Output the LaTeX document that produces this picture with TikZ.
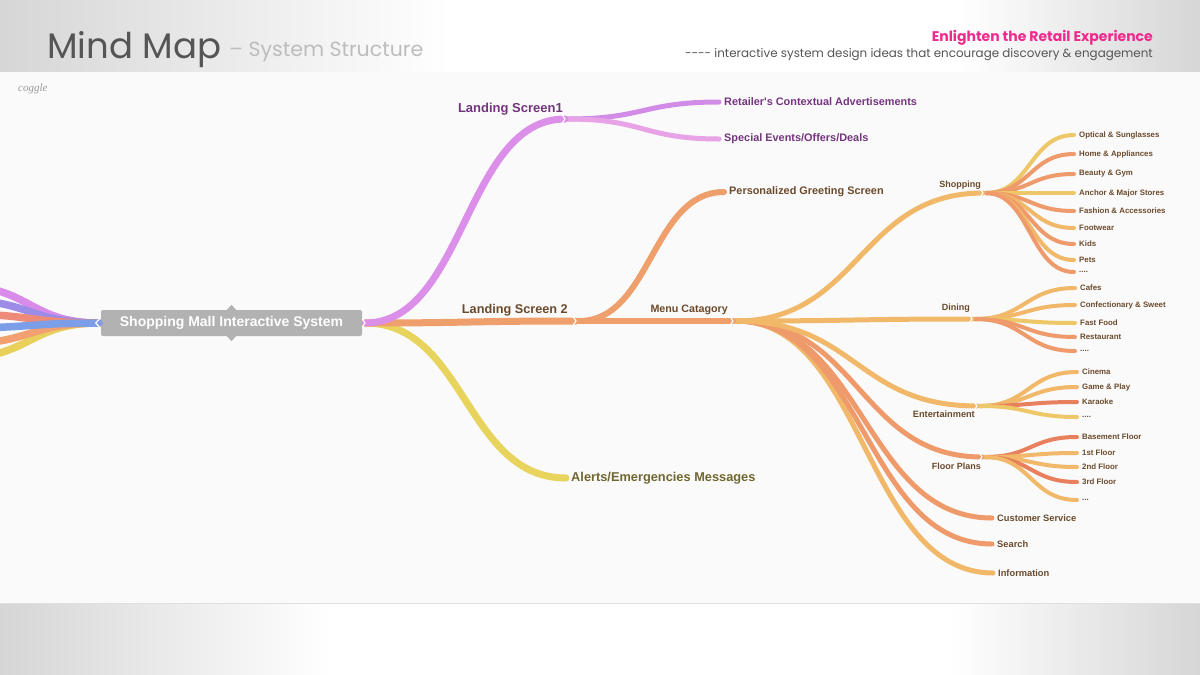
\documentclass[tikz,border=0pt]{standalone}
\usepackage{fontspec}
\setmainfont{Liberation Sans}
\newfontfamily\titlefont{Poppins}
\newfontfamily\coggfont{Liberation Serif}
\usetikzlibrary{calc}
\definecolor{hdrgray}{HTML}{D6D6D6}
\definecolor{bgc}{HTML}{FAFAFA}
\definecolor{titc}{HTML}{555555}
\definecolor{subc}{HTML}{BDBDBD}
\definecolor{pinkc}{HTML}{EE2A8C}
\definecolor{darkc}{HTML}{555555}
\definecolor{cgray}{HTML}{B2B2B2}
\definecolor{purA}{HTML}{DC8FE8}
\definecolor{purB}{HTML}{D28CE8}
\definecolor{purC}{HTML}{E8A2E6}
\definecolor{orA}{HTML}{EE9F6C}
\definecolor{yelA}{HTML}{E8D45C}
\definecolor{lo}{HTML}{F0B868}
\definecolor{ro}{HTML}{EE9A6A}
\definecolor{yo}{HTML}{EEC868}
\definecolor{rr}{HTML}{E8805E}
\definecolor{stPur}{HTML}{D88BE8}
\definecolor{stBlp}{HTML}{9C8CE8}
\definecolor{stRed}{HTML}{EE8A78}
\definecolor{stBlu}{HTML}{7C9EE8}
\definecolor{stOra}{HTML}{F2A072}
\definecolor{stYel}{HTML}{E8D05A}
\definecolor{purtxt}{HTML}{74357E}
\definecolor{brtxt}{HTML}{6B4A2C}
\definecolor{olvtxt}{HTML}{6F6630}
\newcommand\fsz[1]{\fontsize{#1}{#1}\selectfont}
\newcommand\branch[4]{%
  \path ($(#1)!0.5!(#2)$) coordinate (mid);
  \draw[line cap=round, draw=#3, line width=#4pt] (#1) .. controls (mid |- #1) and (mid |- #2) .. (#2);}
\newcommand\chev[1]{\draw[white, line width=1.2pt] ($(#1)+(-3,-4.5)$) -- (#1) -- ($(#1)+(-3,4.5)$);}
\tikzset{
  lab/.style={font=\fsz{#1}\bfseries, inner sep=0pt},
  leaf/.style={font=\fsz{#1}\bfseries, inner xsep=5pt, inner ysep=0pt, anchor=west, text=brtxt},
}
\begin{document}
\begin{tikzpicture}[x=1pt,y=-1pt]
\useasboundingbox (0,0) rectangle (1200,675);
% background
\fill[white] (0,0) rectangle (1200,675);
\shade[left color=hdrgray, right color=white] (0,0) rectangle (450,72);
\shade[left color=white, right color=hdrgray] (960,0) rectangle (1200,72);
\shade[left color=hdrgray, right color=white] (0,603) rectangle (330,675);
\shade[left color=white, right color=hdrgray] (950,603) rectangle (1200,675);
\fill[bgc] (0,72) rectangle (1200,603);
\draw[black!12, line width=0.8pt] (0,603) -- (1200,603);
% header
\node[anchor=base west, font=\titlefont\fsz{35.5}, text=titc, inner sep=0pt] (title) at (47,58) {Mind Map};
\node[anchor=base west, font=\titlefont\fsz{20.5}, text=subc, inner sep=0pt] (subtitle) at (229,56) {– System Structure};
\node[anchor=base east, font=\titlefont\bfseries\fsz{14}, text=pinkc, inner sep=0pt] (enl) at (1153,41) {Enlighten the Retail Experience};
\node[anchor=base east, font=\titlefont\fsz{11.9}, text=darkc, inner sep=0pt] (tag) at (1153,57) {{-}{-}{-}{-} interactive system design ideas that encourage discovery \& engagement};
\node[anchor=base west, font=\coggfont\itshape\fsz{11}, text=black!40, inner sep=0pt] (cog) at (18,91) {coggle};

% central node
\node[fill=cgray, rounded corners=2pt, minimum width=261pt, minimum height=26pt, inner sep=0pt,
      font=\fsz{14}\bfseries, text=white] (c) at (231.5,323) {Shopping Mall Interactive System};
\fill[cgray] ($(c.north)+(-5,0.5)$) -- ($(c.north)+(0,-5)$) -- ($(c.north)+(5,0.5)$) -- cycle;
\fill[cgray] ($(c.south)+(-5,-0.5)$) -- ($(c.south)+(0,5)$) -- ($(c.south)+(5,-0.5)$) -- cycle;
\coordinate (cl) at (99,323);
\coordinate (cr) at (365,323);

% left stubs
\begin{scope}
\clip (0,72) rectangle (1200,603);
\coordinate (s1) at (-40,286);
\coordinate (s2) at (-40,300);
\coordinate (s3) at (-40,314);
\coordinate (s4) at (-40,328);
\coordinate (s5) at (-40,344);
\coordinate (s6) at (-40,358);
\branch{s1}{cl}{stPur}{7.5}
\branch{s6}{cl}{stYel}{7.5}
\branch{s5}{cl}{stOra}{7.5}
\branch{s2}{cl}{stBlp}{7.5}
\branch{s3}{cl}{stRed}{7.5}
\branch{s4}{cl}{stBlu}{7.5}
\end{scope}
\draw[white, line width=1.2pt] ($(c.west)+(-1,-4.5)$) -- ($(c.west)+(-5,0)$) -- ($(c.west)+(-1,4.5)$);

% level 1
\node[lab=13, text=purtxt, anchor=east] (ls1) at (563,109) {Landing Screen1};
\coordinate (j1) at (565,119);
\coordinate (j1o) at (568,119);
\node[lab=12.7, text=brtxt, anchor=east] (ls2) at (568,310) {Landing Screen 2};
\coordinate (j2) at (576,321);
\coordinate (j2o) at (579,321);
\node[leaf=12.8, text=olvtxt] (alerts) at (566,478) {Alerts/Emergencies Messages};

% level 2
\node[leaf=10.9, text=purtxt] (ret) at (719,102) {Retailer\textquotesingle s Contextual Advertisements};
\node[leaf=10.9, text=purtxt] (spe) at (719,139) {Special Events/Offers/Deals};
\node[leaf=10.9, text=brtxt] (greet) at (724,192) {Personalized Greeting Screen};
\node[lab=10.7, text=brtxt, anchor=east] (menu) at (728,310) {Menu Catagory};
\coordinate (j3) at (733,321);
\coordinate (j3o) at (736,321);

% level 3
\node[lab=9, text=brtxt, anchor=east] (shop) at (981,185) {Shopping};
\coordinate (j4) at (983,193);
\coordinate (j4o) at (986,193);
\node[lab=9, text=brtxt, anchor=east] (din) at (970,308) {Dining};
\coordinate (j5) at (972,319);
\coordinate (j5o) at (975,319);
\node[lab=9.2, text=brtxt, anchor=east] (ent) at (975,414) {Entertainment};
\coordinate (j6) at (977,406);
\coordinate (j6o) at (980,406);
\node[lab=9, text=brtxt, anchor=east] (fp) at (981,466) {Floor Plans};
\coordinate (j7) at (982,457);
\coordinate (j7o) at (985,457);
\node[leaf=9.3] (cs) at (992,518) {Customer Service};
\node[leaf=9.3] (srch) at (992,544) {Search};
\node[leaf=9.3] (info) at (993,573) {Information};

% level 4 shopping
\node[leaf=7.85] (l1) at (1074,135) {Optical \& Sunglasses};
\node[leaf=7.85] (l2) at (1074,154) {Home \& Appliances};
\node[leaf=7.85] (l3) at (1074,174) {Beauty \& Gym};
\node[leaf=7.85] (l4) at (1074,193) {Anchor \& Major Stores};
\node[leaf=7.85] (l5) at (1074,211) {Fashion \& Accessories};
\node[leaf=7.85] (l6) at (1074,228) {Footwear};
\node[leaf=7.85] (l7) at (1074,244) {Kids};
\node[leaf=7.85] (l8) at (1074,260) {Pets};
\node[leaf=7.85] (l9) at (1074,272) {....};
% dining
\node[leaf=7.85] (d1) at (1075,288) {Cafes};
\node[leaf=7.85] (d2) at (1075,305) {Confectionary \& Sweet};
\node[leaf=7.85] (d3) at (1075,323) {Fast Food};
\node[leaf=7.85] (d4) at (1075,337) {Restaurant};
\node[leaf=7.85] (d5) at (1075,351) {....};
% entertainment
\node[leaf=7.85] (e1) at (1077,372) {Cinema};
\node[leaf=7.85] (e2) at (1077,387) {Game \& Play};
\node[leaf=7.85] (e3) at (1077,402) {Karaoke};
\node[leaf=7.85] (e4) at (1077,417) {....};
% floor plans
\node[leaf=7.85] (f1) at (1077,437) {Basement Floor};
\node[leaf=7.85] (f2) at (1077,453) {1st Floor};
\node[leaf=7.85] (f3) at (1077,467) {2nd Floor};
\node[leaf=7.85] (f4) at (1077,482) {3rd Floor};
\node[leaf=7.85] (f5) at (1077,500) {...};

% connectors: leaves
\branch{j4o}{l1.west}{yo}{4}
\branch{j4o}{l2.west}{ro}{4}
\branch{j4o}{l3.west}{ro}{4}
\branch{j4o}{l4.west}{yo}{4}
\branch{j4o}{l5.west}{ro}{4}
\branch{j4o}{l6.west}{lo}{4}
\branch{j4o}{l7.west}{ro}{4}
\branch{j4o}{l8.west}{lo}{4}
\branch{j4o}{l9.west}{ro}{4}
\branch{j5o}{d1.west}{lo}{4}
\branch{j5o}{d2.west}{lo}{4}
\branch{j5o}{d3.west}{yo}{4}
\branch{j5o}{d4.west}{ro}{4}
\branch{j5o}{d5.west}{ro}{4}
\branch{j6o}{e1.west}{lo}{4}
\branch{j6o}{e2.west}{lo}{4}
\branch{j6o}{e3.west}{rr}{4}
\branch{j6o}{e4.west}{yo}{4}
\branch{j7o}{f1.west}{rr}{4}
\branch{j7o}{f2.west}{lo}{4}
\branch{j7o}{f3.west}{lo}{4}
\branch{j7o}{f4.west}{rr}{4}
\branch{j7o}{f5.west}{lo}{4}
% level 3 connectors
\branch{j3o}{info.west}{lo}{5}
\branch{j3o}{srch.west}{ro}{5}
\branch{j3o}{cs.west}{ro}{5}
\branch{j3o}{j7}{ro}{5}
\branch{j3o}{j6}{lo}{5}
\branch{j3o}{j5}{lo}{5}
\branch{j3o}{j4}{lo}{5}
% level 2 connectors
\branch{j1o}{ret.west}{purB}{5}
\branch{j1o}{spe.west}{purC}{5}
\branch{j2o}{greet.west}{orA}{6}
\branch{j2o}{j3}{orA}{6}
% level 1 connectors
\branch{cr}{alerts.west}{yelA}{7}
\branch{cr}{j2}{orA}{7}
\branch{cr}{j1}{purA}{7}
% chevrons
\chev{j1}
\chev{j2}
\chev{j3}
\chev{j4}
\chev{j5}
\chev{j6}
\chev{j7}
\chev{cr}
\end{tikzpicture}
\end{document}
